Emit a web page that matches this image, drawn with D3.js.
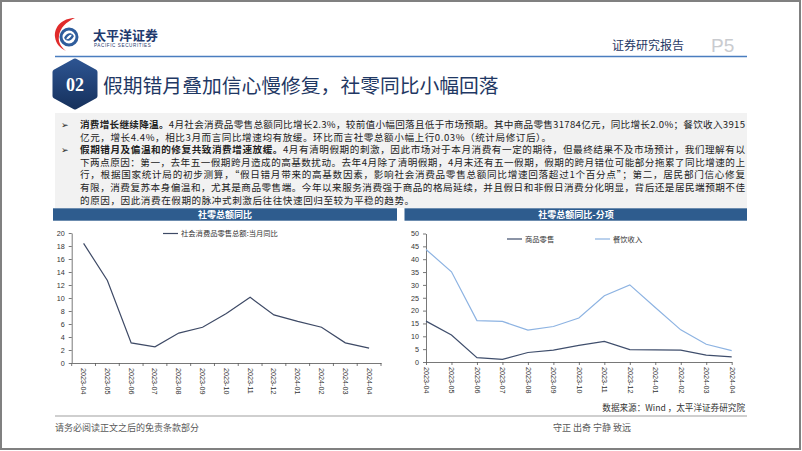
<!DOCTYPE html>
<html><head><meta charset="utf-8">
<script src="https://cdn.jsdelivr.net/npm/d3@7"></script>
<style>
html,body{margin:0;padding:0;background:#fff;}
svg{display:block;}
</style></head>
<body>
<svg id="c" width="802" height="451"></svg>
<script>
// ---- data ----
const months = ["2023-04","2023-05","2023-06","2023-07","2023-08","2023-09","2023-10","2023-11","2023-12","2024-01","2024-02","2024-03","2024-04"];
const totalYoY = [18.4,12.7,3.1,2.5,4.6,5.5,7.6,10.1,7.4,6.4,5.5,3.1,2.3];
const goodsYoY = [15.9,10.5,1.7,1.0,3.7,4.6,6.5,8.0,4.8,4.7,4.6,2.7,2.0];
const cateringYoY = [43.8,35.1,16.1,15.8,12.4,13.8,17.1,25.8,30.0,21.2,12.5,6.9,4.4];
const leftTicks = [0,2,4,6,8,10,12,14,16,18,20];
const rightTicks = [0,5,10,15,20,25,30,35,40,45,50];
const seriesNames = ["社会消费品零售总额:当月同比","商品零售","餐饮收入"];
const paragraphLines = [
  {b:"消费增长继续降温。", t:"4月社会消费品零售总额同比增长2.3%，较前值小幅回落且低于市场预期。其中商品零售31784亿元，同比增长2.0%；餐饮收入3915", bullet:true, just:true},
  {b:"", t:"亿元，增长4.4%，相比3月而言同比增速均有放缓。环比而言社零总额小幅上行0.03%（统计局修订后）。", bullet:false, just:false},
  {b:"假期错月及偏温和的修复共致消费增速放缓。", t:"4月有清明假期的刺激，因此市场对于本月消费有一定的期待，但最终结果不及市场预计，我们理解有以", bullet:true, just:true},
  {b:"", t:"下两点原因：第一，去年五一假期跨月造成的高基数扰动。去年4月除了清明假期，4月末还有五一假期，假期的跨月错位可能部分拖累了同比增速的上", bullet:false, just:true},
  {b:"", t:"行，根据国家统计局的初步测算，“假日错月带来的高基数因素，影响社会消费品零售总额同比增速回落超过1个百分点”；第二，居民部门信心修复", bullet:false, just:true},
  {b:"", t:"有限，消费复苏本身偏温和，尤其是商品零售端。今年以来服务消费强于商品的格局延续，并且假日和非假日消费分化明显，背后还是居民端预期不佳", bullet:false, just:true},
  {b:"", t:"的原因，因此消费在假期的脉冲式刺激后往往快速回归至较为平稳的趋势。", bullet:false, just:false}
];

const svg = d3.select("#c");
const CJK = "'Noto Sans CJK SC','Noto Sans',sans-serif";
const LAT = "'Liberation Sans',Arial,sans-serif";
const navy = "#1F3864";

// outer frame
svg.append("rect").attr("x",1).attr("y",1).attr("width",799).attr("height",448)
  .attr("fill","none").attr("stroke","#808080").attr("stroke-width",2);

// ---- header ----
const defs = svg.append("defs");
const g1 = defs.append("linearGradient").attr("id","hexg").attr("x1",0).attr("y1",0).attr("x2",0).attr("y2",1);
g1.append("stop").attr("offset","0%").attr("stop-color","#2C5390");
g1.append("stop").attr("offset","100%").attr("stop-color","#17325E");

// logo
const logo = svg.append("g");
logo.append("path").attr("d","M75,18 C62,18 54,27 55,37 C56,44 60,48 66,51 C60,46 58,41 59,36 C60,28 66,22 75,18 Z").attr("fill","#E02B2B");
logo.append("circle").attr("cx",69).attr("cy",37).attr("r",8).attr("fill","none").attr("stroke","#2F5D9C").attr("stroke-width",3);
logo.append("path").attr("d","M64,38 C66,33 71,32 73,35 C70,34 67,36 66,40 Z").attr("fill","#2F5D9C");
logo.append("path").attr("d","M74,36 C72,41 67,42 65,39 C68,40 71,38 72,34 Z").attr("fill","#2F5D9C");
svg.append("text").attr("x",93).attr("y",40).text("太平洋证券")
  .attr("font-family",CJK).attr("font-weight","bold").attr("font-size",13).attr("fill","#1F3A6E");
svg.append("text").attr("x",94).attr("y",46.5).text("PACIFIC SECURITIES")
  .attr("font-family",LAT).attr("font-size",4.6).attr("letter-spacing",0.6).attr("fill","#1F3A6E");
svg.append("line").attr("x1",55).attr("x2",747).attr("y1",56.5).attr("y2",56.5).attr("stroke","#4A7DBF").attr("stroke-width",1.5);
svg.append("text").attr("x",612).attr("y",50).text("证券研究报告")
  .attr("font-family",CJK).attr("font-size",12).attr("fill",navy);
svg.append("text").attr("x",711).attr("y",52).text("P5")
  .attr("font-family",LAT).attr("font-size",19).attr("fill","#C9CBCF");

// hexagon + title
const hx = 75, hy = 84;
const hexPts = [[hx,hy-23],[hx+20,hy-12],[hx+20,hy+12],[hx,hy+23],[hx-20,hy+12],[hx-20,hy-12]];
svg.append("path").attr("d","M"+hexPts.map(p=>p.join(",")).join("L")+"Z")
  .attr("fill","url(#hexg)").attr("stroke","url(#hexg)").attr("stroke-width",5).attr("stroke-linejoin","round");
svg.append("text").attr("x",hx).attr("y",hy+6.5).attr("text-anchor","middle").text("02")
  .attr("font-family","'Liberation Serif','DejaVu Serif',serif").attr("font-weight","bold").attr("font-size",18).attr("fill","#fff");
svg.append("text").attr("x",103).attr("y",93).text("假期错月叠加信心慢修复，社零同比小幅回落")
  .attr("font-family",CJK).attr("font-size",19.8).attr("fill",navy);

// ---- text box ----
svg.append("rect").attr("x",55).attr("y",113).attr("width",692).attr("height",95).attr("fill","#F2F2F2");
const tx0 = 80, tx1 = 745;
paragraphLines.forEach((ln,i)=>{
  const y = 128 + i*12.6;
  if (ln.bullet) svg.append("text").attr("x",61).attr("y",y).text("➢")
    .attr("font-family","'DejaVu Sans',sans-serif").attr("font-size",9).attr("fill","#222");
  const t = svg.append("text").attr("x",tx0).attr("y",y)
    .attr("font-family",CJK).attr("font-size",9.6).attr("fill","#222");
  if (ln.b) t.append("tspan").attr("font-weight","bold").text(ln.b);
  t.append("tspan").text(ln.t);
  if (ln.just) {
    const len = t.node().getComputedTextLength();
    const n = (ln.b+ln.t).length;
    t.attr("letter-spacing", ((tx1-tx0)-len)/(n-1));
  } else {
    t.attr("letter-spacing", 0.55);
  }
});

// ---- chart title bars ----
svg.append("rect").attr("x",53).attr("y",208.3).attr("width",344).attr("height",12.4).attr("fill","#2E5C8E");
svg.append("rect").attr("x",404.5).attr("y",208.3).attr("width",342.5).attr("height",12.4).attr("fill","#2E5C8E");
svg.append("text").attr("x",225).attr("y",218).attr("text-anchor","middle").text("社零总额同比")
  .attr("font-family",CJK).attr("font-weight","bold").attr("font-size",9).attr("fill","#fff");
svg.append("text").attr("x",576).attr("y",218).attr("text-anchor","middle").text("社零总额同比-分项")
  .attr("font-family",CJK).attr("font-weight","bold").attr("font-size",9).attr("fill","#fff");

const axisCol = "#555";
function styleAxis(g){
  g.selectAll("path,line").attr("stroke",axisCol).attr("stroke-width",0.8);
  g.selectAll("text").attr("font-family",LAT).attr("font-size",7.2).attr("fill","#333");
}

// ---- left chart ----
const xL = d3.scaleBand().domain(months).range([71.7,381]).paddingInner(0).paddingOuter(0);
const yL = d3.scaleLinear().domain([0,20]).range([363,233]);
const gL = svg.append("g");
const ayL = gL.append("g").attr("transform","translate(71.7,0)")
  .call(d3.axisLeft(yL).tickValues(leftTicks).tickSize(3).tickSizeOuter(0).tickPadding(4));
styleAxis(ayL);
const axL = gL.append("g").attr("transform","translate(0,363)")
  .call(d3.axisBottom(xL).tickSize(0).tickSizeOuter(0).tickPadding(0));
styleAxis(axL);
axL.selectAll("text").attr("transform","rotate(90)").attr("x",5).attr("y",0).attr("dy","0.35em").style("text-anchor","start");
// boundary ticks
const bounds = months.map(m=>xL(m)).concat([xL(months[months.length-1])+xL.bandwidth()]);
gL.append("g").selectAll("line").data(bounds).join("line")
  .attr("x1",d=>d).attr("x2",d=>d).attr("y1",363).attr("y2",366).attr("stroke",axisCol).attr("stroke-width",0.8);
gL.append("path").datum(totalYoY)
  .attr("d",d3.line().x((d,i)=>xL(months[i])+xL.bandwidth()/2).y(d=>yL(d)))
  .attr("fill","none").attr("stroke","#3E4A66").attr("stroke-width",1.2);
gL.append("line").attr("x1",163).attr("x2",178).attr("y1",233.5).attr("y2",233.5).attr("stroke","#3E4A66").attr("stroke-width",1.2);
gL.append("text").attr("x",181).attr("y",236).text(seriesNames[0])
  .attr("font-family",CJK).attr("font-size",7.3).attr("fill","#333");

// ---- right chart ----
const xR = d3.scalePoint().domain(months).range([426,731.7]);
const yR = d3.scaleLinear().domain([0,50]).range([362,233.5]);
const gR = svg.append("g");
const ayR = gR.append("g").attr("transform","translate(426,0)")
  .call(d3.axisLeft(yR).tickValues(rightTicks).tickSize(3).tickSizeOuter(0).tickPadding(4));
styleAxis(ayR);
const axR = gR.append("g").attr("transform","translate(0,362)")
  .call(d3.axisBottom(xR).tickSize(3).tickSizeOuter(0).tickPadding(0));
styleAxis(axR);
axR.selectAll("text").attr("transform","rotate(90)").attr("x",5).attr("y",0).attr("dy","0.35em").style("text-anchor","start");
const colGoods = "#3F4E6C", colCat = "#8DB3E2";
gR.append("path").datum(cateringYoY)
  .attr("d",d3.line().x((d,i)=>xR(months[i])).y(d=>yR(d)))
  .attr("fill","none").attr("stroke",colCat).attr("stroke-width",1.2);
gR.append("path").datum(goodsYoY)
  .attr("d",d3.line().x((d,i)=>xR(months[i])).y(d=>yR(d)))
  .attr("fill","none").attr("stroke",colGoods).attr("stroke-width",1.2);
gR.append("line").attr("x1",507).attr("x2",522).attr("y1",239).attr("y2",239).attr("stroke",colGoods).attr("stroke-width",1.2);
gR.append("text").attr("x",525).attr("y",241.5).text(seriesNames[1])
  .attr("font-family",CJK).attr("font-size",7.3).attr("fill","#333");
gR.append("line").attr("x1",595).attr("x2",610).attr("y1",239).attr("y2",239).attr("stroke",colCat).attr("stroke-width",1.2);
gR.append("text").attr("x",613).attr("y",241.5).text(seriesNames[2])
  .attr("font-family",CJK).attr("font-size",7.3).attr("fill","#333");

// ---- footer ----
svg.append("text").attr("x",745).attr("y",411).attr("text-anchor","end").text("数据来源：Wind ，太平洋证券研究院")
  .attr("font-family",CJK).attr("font-size",8.6).attr("fill","#333");
svg.append("line").attr("x1",55).attr("x2",747).attr("y1",416).attr("y2",416).attr("stroke","#BFBFBF").attr("stroke-width",1.5);
svg.append("text").attr("x",55).attr("y",431).text("请务必阅读正文之后的免责条款部分")
  .attr("font-family",CJK).attr("font-size",9).attr("fill","#595959");
svg.append("text").attr("x",553).attr("y",431).text("守正 出奇 宁静 致远")
  .attr("font-family",CJK).attr("font-size",9).attr("fill","#595959");
</script>
</body></html>
